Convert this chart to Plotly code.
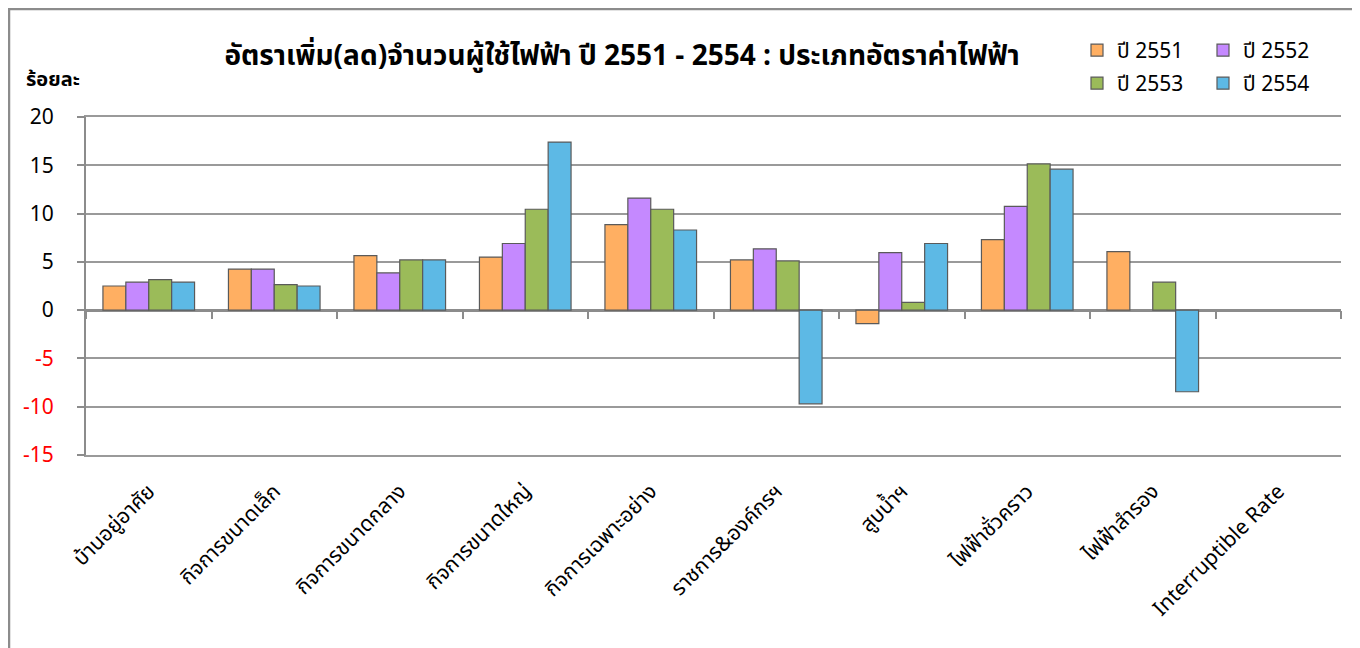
import plotly.graph_objects as go

categories = ["บ้านอยู่อาศัย", "กิจการขนาดเล็ก", "กิจการขนาดกลาง", "กิจการขนาดใหญ่",
              "กิจการเฉพาะอย่าง", "ราชการ&องค์กรฯ", "สูบน้ำฯ", "ไฟฟ้าชั่วคราว",
              "ไฟฟ้าสำรอง", "Interruptible Rate"]

series_names = ["ปี 2551", "ปี 2552", "ปี 2553", "ปี 2554"]
y2551 = [2.5, 4.25, 5.65, 5.5, 8.85, 5.2, -1.4, 7.3, 6.05, None]
y2552 = [2.9, 4.25, 3.85, 6.9, 11.6, 6.35, 5.95, 10.75, None, None]
y2553 = [3.15, 2.65, 5.2, 10.45, 10.45, 5.1, 0.8, 15.15, 2.9, None]
y2554 = [2.9, 2.5, 5.2, 17.4, 8.3, -9.7, 6.9, 14.6, -8.45, None]

ytick_vals = [20, 15, 10, 5, 0, -5, -10, -15]
ytick_text = ["20", "15", "10", "5", "0",
              "<span style='color:#ff0000'>-5</span>",
              "<span style='color:#ff0000'>-10</span>",
              "<span style='color:#ff0000'>-15</span>"]

colors = ["#FFAF62", "#C589FF", "#9BBB59", "#5DB9E5"]
legend_ids = ["legend", "legend", "legend2", "legend2"]

FONT = "Tahoma, 'Noto Sans Thai', 'Noto Sans', 'DejaVu Sans', sans-serif"
GRID = "#9a9a9a"
AXIS = "#8c8c8c"

fig = go.Figure()
for name, vals, col, lg in zip(series_names, [y2551, y2552, y2553, y2554], colors, legend_ids):
    fig.add_trace(go.Bar(
        x=categories, y=vals, name=name, legend=lg,
        marker=dict(color=col, line=dict(color="#5a5a5a", width=1.2)),
    ))

# helper trace (no visible marks) for the overlay axes carrying the small tick marks
fig.add_trace(go.Scatter(x=categories, y=[None] * len(categories), xaxis="x2", yaxis="y2",
                         showlegend=False, hoverinfo="skip", mode="markers"))

# page has an 8px body margin, so the figure is drawn 8px smaller and offset
W, H = 1352, 640
OFF = 8
L = 86 - OFF
T = 117 - OFF
R = W - (1341 - OFF)
B = H - (455 - OFF)
pw, ph = W - L - R, H - T - B

def px_x(px):  # absolute screen px -> paper x
    return (px - OFF - L) / pw

def px_y(py):  # absolute screen px -> paper y
    return (H - B - (py - OFF)) / ph

fig.update_layout(
    width=W, height=H,
    margin=dict(l=L, r=R, t=T, b=B),
    paper_bgcolor="white", plot_bgcolor="white",
    font=dict(family=FONT, color="black"),
    barmode="group", bargap=0.27, bargroupgap=0,
    title=dict(text="<b>อัตราเพิ่ม(ลด)จำนวนผู้ใช้ไฟฟ้า ปี 2551 - 2554 : ประเภทอัตราค่าไฟฟ้า</b>",
               x=px_x(622), xref="paper", xanchor="center",
               y=1 - (55 - OFF) / H, yref="container", yanchor="middle",
               font=dict(size=28, family=FONT, color="black")),
    legend=dict(orientation="h", x=px_x(1077), y=px_y(30), xanchor="left", yanchor="top",
                entrywidth=81, entrywidthmode="pixels", font=dict(size=21),
                bgcolor="rgba(0,0,0,0)", tracegroupgap=0),
    legend2=dict(orientation="h", x=px_x(1077), y=px_y(63), xanchor="left", yanchor="top",
                 entrywidth=81, entrywidthmode="pixels", font=dict(size=21),
                 bgcolor="rgba(0,0,0,0)", tracegroupgap=0),
    xaxis=dict(type="category", categoryorder="array", categoryarray=categories,
               range=[-0.5, len(categories) - 0.5],
               showgrid=False, zeroline=False,
               showline=True, linecolor=GRID, linewidth=1.5, mirror=True,
               ticks="", tickangle=-45, ticklabelstandoff=14,
               tickfont=dict(size=21, family=FONT, color="black")),
    xaxis2=dict(type="category", categoryorder="array", categoryarray=categories,
                range=[-0.5, len(categories) - 0.5],
                overlaying="x", anchor="free", position=15 / 35, side="bottom",
                showgrid=False, zeroline=False, showline=False,
                ticks="outside", ticklen=8, tickwidth=1.5, tickcolor=AXIS,
                tickson="boundaries", showticklabels=False),
    yaxis=dict(range=[-15, 20], tickvals=ytick_vals, ticktext=ytick_text,
               showgrid=True, gridcolor=GRID, gridwidth=1.5,
               zeroline=True, zerolinecolor=AXIS, zerolinewidth=2.5,
               showline=True, linecolor=AXIS, linewidth=2,
               ticks="outside", ticklen=26, tickcolor="rgba(0,0,0,0)",
               tickfont=dict(size=21, family=FONT, color="black")),
    yaxis2=dict(range=[-15, 20], tickvals=ytick_vals, overlaying="y", anchor="x", side="left",
                showgrid=False, zeroline=False, showline=False,
                ticks="outside", ticklen=8, tickwidth=1.5, tickcolor=AXIS,
                showticklabels=False),
    annotations=[dict(text="<b>ร้อยละ</b>", x=px_x(24), y=px_y(80), xref="paper", yref="paper",
                      xanchor="left", yanchor="middle", showarrow=False,
                      font=dict(size=20, family=FONT, color="black"))],
    shapes=[
        dict(type="line", xref="paper", yref="paper", x0=px_x(8), x1=px_x(1365),
             y0=px_y(9), y1=px_y(9), line=dict(color=AXIS, width=2.5)),
        dict(type="line", xref="paper", yref="paper", x0=px_x(9), x1=px_x(9),
             y0=px_y(8), y1=px_y(660), line=dict(color=AXIS, width=2.5)),
    ],
)

fig.write_html("out.html")
